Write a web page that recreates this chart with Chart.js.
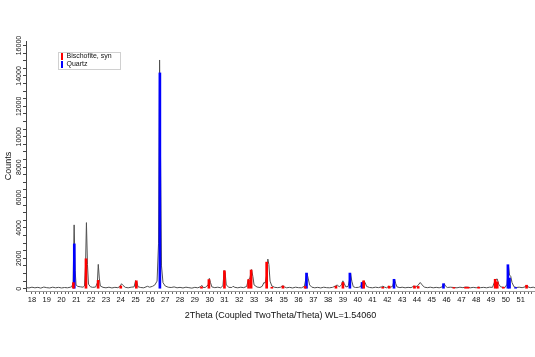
<!DOCTYPE html>
<html>
<head>
<meta charset="utf-8">
<script src="https://cdn.jsdelivr.net/npm/chart.js@4.4.1/dist/chart.umd.min.js"></script>
<style>
html,body{margin:0;padding:0;background:#fff;}
#wrap{width:535px;height:357px;position:relative;}
</style>
</head>
<body>
<div id="wrap"><canvas id="c" width="535" height="357"></canvas></div>
<script>
// Measured pattern (2Theta, Counts)
const measuredTheta = [17.6,17.8,18.0,18.2,18.4,18.6,18.8,19.0,19.2,19.4,19.6,19.8,20.0,20.2,20.4,20.6,20.7,20.78,20.85,20.92,20.98,21.1,21.3,21.45,21.55,21.62,21.68,21.75,21.82,21.95,22.1,22.3,22.42,22.48,22.55,22.62,22.8,23.0,23.2,23.4,23.6,23.8,23.95,24.05,24.15,24.3,24.5,24.7,24.9,25.0,25.08,25.16,25.35,25.55,25.8,25.95,26.15,26.3,26.45,26.55,26.62,26.68,26.75,26.85,27.0,27.2,27.4,27.6,27.8,28.0,28.2,28.4,28.6,28.8,29.0,29.2,29.4,29.47,29.55,29.7,29.9,29.98,30.06,30.15,30.35,30.55,30.75,30.9,30.98,31.05,31.12,31.3,31.5,31.58,31.7,31.9,32.1,32.3,32.5,32.62,32.72,32.83,32.92,33.0,33.2,33.4,33.55,33.66,33.75,33.85,33.93,34.0,34.08,34.2,34.4,34.6,34.8,34.95,35.05,35.2,35.4,35.6,35.8,36.0,36.2,36.4,36.57,36.65,36.75,36.9,37.1,37.3,37.5,37.7,37.9,38.1,38.3,38.5,38.62,38.75,38.9,39.0,39.08,39.2,39.35,39.45,39.52,39.6,39.7,39.85,40.05,40.2,40.3,40.4,40.5,40.6,40.8,41.0,41.2,41.4,41.6,41.7,41.8,41.95,42.1,42.2,42.35,42.48,42.56,42.65,42.85,43.0,43.2,43.4,43.6,43.8,43.9,44.05,44.22,44.35,44.5,44.7,44.9,45.1,45.3,45.5,45.7,45.84,45.92,46.05,46.25,46.5,46.7,46.9,47.1,47.28,47.45,47.6,47.8,48.0,48.15,48.3,48.5,48.7,48.9,49.1,49.22,49.3,49.42,49.52,49.65,49.8,49.95,50.08,50.18,50.25,50.33,50.42,50.55,50.7,50.9,51.1,51.3,51.4,51.5,51.65,51.85,51.97];
const measuredCounts = [80,50,100,60,90,40,110,70,50,100,60,90,50,80,60,100,140,400,4200,1200,250,150,120,100,180,1500,4350,1600,300,130,90,110,400,1600,700,180,90,60,100,50,90,70,150,330,220,90,60,100,120,530,450,130,80,60,160,100,160,250,500,3000,15050,9000,1500,400,180,100,80,120,60,90,50,100,70,40,90,60,140,220,90,80,250,680,400,120,70,100,60,200,1200,1050,250,90,80,160,90,60,100,70,150,620,700,1260,800,250,110,80,160,400,380,900,1950,1600,500,180,90,70,100,200,120,60,90,50,100,70,60,160,1030,700,250,100,60,90,50,100,70,60,90,180,250,120,250,520,350,120,150,600,1000,500,130,80,90,150,420,520,400,150,80,60,100,70,120,170,110,60,170,100,150,630,350,120,70,100,60,90,70,180,120,200,410,250,100,70,100,60,90,60,120,330,180,80,100,80,60,100,70,110,100,60,90,60,110,70,90,60,100,90,400,600,640,300,120,100,80,300,1500,900,820,400,130,80,100,70,120,240,120,70,100,60];

// Reference stick patterns
const bischofiteTheta = [20.8,21.65,22.47,24.0,25.05,29.45,29.95,31.0,32.63,32.8,33.85,34.2,34.95,36.45,38.53,39.0,40.4,41.69,42.12,43.83,44.08,46.49,47.28,47.45,48.16,49.28,49.42,49.83,51.4];
const bischofiteCounts = [400,1970,550,180,520,120,600,1180,600,1230,1750,100,180,150,170,410,520,100,170,180,150,80,100,100,100,620,450,100,230];
const quartzTheta = [20.86,26.64,36.54,39.47,40.29,42.45,45.79,50.14,50.25,50.66];
const quartzCounts = [2950,14200,1030,1030,410,620,330,1580,700,80];

// Tick values
const yTickValues = [0,500,1000,1500,2000,2500,3000,3500,4000,4500,5000,5500,6000,6500,7000,7500,8000,8500,9000,9500,10000,10500,11000,11500,12000,12500,13000,13500,14000,14500,15000,15500,16000];
const yLabelValues = [0,2000,4000,6000,8000,10000,12000,14000,16000];
const xLabelValues = [18,19,20,21,22,23,24,25,26,27,28,29,30,31,32,33,34,35,36,37,38,39,40,41,42,43,44,45,46,47,48,49,50,51];
const xMinorStep = 0.25;

const seriesNames = ['Bischofite, syn','Quartz'];
const xTitle = '2Theta (Coupled TwoTheta/Theta) WL=1.54060';
const yTitle = 'Counts';

const toXY = (xs, ys) => xs.map((x, i) => ({x: x, y: ys[i]}));

const legendBoxPlugin = {
  id: 'legendBox',
  afterLayout(chart) { const lg = chart.legend; if (!lg) return; lg.left = 60; lg.top = 52; },
  beforeDraw(chart) {
    const ctx = chart.ctx; ctx.save();
    ctx.fillStyle = '#ffffff'; ctx.fillRect(58.5, 52.5, 62, 17);
    ctx.strokeStyle = '#d0d0d0'; ctx.lineWidth = 1; ctx.strokeRect(58.5, 52.5, 62, 17);
    ctx.restore();
  }
};

const xTicks = [];
xLabelValues.forEach((v) => { for (let k = 0; k < 4; k++) xTicks.push(v + k * xMinorStep); });

new Chart(document.getElementById('c'), {
  type: 'bar',
  data: { datasets: [
    { type: 'bar', label: seriesNames[0], data: toXY(bischofiteTheta, bischofiteCounts), backgroundColor: '#ff0000', borderWidth: 0, barThickness: 2, grouped: false },
    { type: 'bar', label: seriesNames[1], data: toXY(quartzTheta, quartzCounts), backgroundColor: '#0000ff', borderWidth: 0, barThickness: 2, grouped: false },
    { type: 'line', label: 'measured', data: toXY(measuredTheta, measuredCounts), borderColor: '#505050', borderWidth: 1, pointRadius: 0, tension: 0, fill: false }
  ] },
  options: {
    responsive: false, animation: false,
    layout: { padding: { top: 41, right: 0, bottom: 30, left: 0 } },
    plugins: {
      legend: { position: 'chartArea', align: 'start',
        labels: { filter: (item) => item.text !== 'measured', boxWidth: 2, boxHeight: 7, padding: 1,
          font: { family: 'Liberation Sans', size: 7 }, color: '#111' } },
      tooltip: { enabled: false }
    },
    scales: {
      x: { type: 'linear', min: 17.6, max: 51.97, offset: false,
        afterFit: (s) => { s.height = 36; },
        afterBuildTicks: (s) => { s.ticks = xTicks.map((v) => ({value: v})); },
        grid: { display: true, drawOnChartArea: false, offset: false, tickLength: 3, tickColor: '#666' },
        border: { display: true, color: '#999' },
        ticks: { autoSkip: false, maxRotation: 0, minRotation: 0, padding: 1,
          font: { family: 'Liberation Sans', size: 7.5 }, color: '#111',
          callback: (v) => (xLabelValues.includes(v) ? String(v) : '') },
        title: { display: true, text: xTitle, font: { family: 'Liberation Sans', size: 9 }, color: '#111', padding: { top: 4, bottom: 6 } }
      },
      y: { type: 'linear', min: -150, max: 16300,
        afterFit: (s) => { s.width = 26; },
        afterBuildTicks: (s) => { s.ticks = yTickValues.map((v) => ({value: v})); },
        grid: { display: true, drawOnChartArea: false, tickLength: 3, tickColor: '#444' },
        border: { display: true, color: '#444' },
        ticks: { autoSkip: false, minRotation: 90, maxRotation: 90, crossAlign: 'center', padding: -6,
          font: { family: 'Liberation Sans', size: 7 }, color: '#111',
          callback: (v) => (yLabelValues.includes(v) ? String(v) : '') },
        title: { display: true, text: yTitle, font: { family: 'Liberation Sans', size: 9 }, color: '#111', padding: { top: 3, bottom: 0 } }
      }
    }
  },
  plugins: [legendBoxPlugin]
});
</script>
</body>
</html>
